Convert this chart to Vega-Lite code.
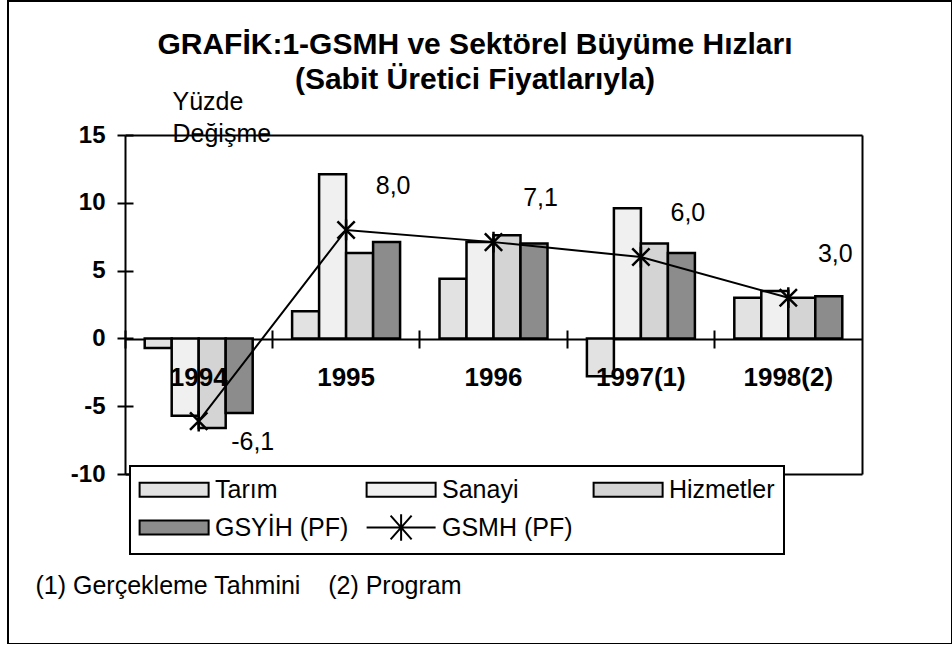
{
  "$schema": "https://vega.github.io/schema/vega-lite/v6.json",
  "width": 944,
  "height": 643,
  "autosize": "none",
  "padding": {"left": 8, "top": 1, "right": 0, "bottom": 0},
  "background": "white",
  "config": {
    "view": {"stroke": "black", "strokeWidth": 2},
    "font": "Liberation Sans",
    "locale": {"number": {"decimal": ",", "thousands": ".", "grouping": [3], "currency": ["", ""], "minus": "-"}},
    "axis": {"domainColor": "black", "tickColor": "black", "labelColor": "black", "titleColor": "black", "grid": false}
  },
  "title": {
    "text": ["GRAFİK:1-GSMH ve Sektörel Büyüme Hızları", "(Sabit Üretici Fiyatlarıyla)"],
    "fontSize": 30,
    "fontWeight": "bold",
    "font": "Liberation Sans",
    "color": "black",
    "anchor": "middle",
    "frame": "group",
    "baseline": "top",
    "lineHeight": 35,
    "offset": -94,
    "dx": -5
  },
  "datasets": {
    "bars": [
      {"year": "1994", "series": "Tarım", "value": -0.7},
      {"year": "1994", "series": "Sanayi", "value": -5.7},
      {"year": "1994", "series": "Hizmetler", "value": -6.6},
      {"year": "1994", "series": "GSYİH (PF)", "value": -5.5},
      {"year": "1995", "series": "Tarım", "value": 2.0},
      {"year": "1995", "series": "Sanayi", "value": 12.1},
      {"year": "1995", "series": "Hizmetler", "value": 6.3},
      {"year": "1995", "series": "GSYİH (PF)", "value": 7.1},
      {"year": "1996", "series": "Tarım", "value": 4.4},
      {"year": "1996", "series": "Sanayi", "value": 7.1},
      {"year": "1996", "series": "Hizmetler", "value": 7.6},
      {"year": "1996", "series": "GSYİH (PF)", "value": 7.0},
      {"year": "1997(1)", "series": "Tarım", "value": -2.8},
      {"year": "1997(1)", "series": "Sanayi", "value": 9.6},
      {"year": "1997(1)", "series": "Hizmetler", "value": 7.0},
      {"year": "1997(1)", "series": "GSYİH (PF)", "value": 6.3},
      {"year": "1998(2)", "series": "Tarım", "value": 3.0},
      {"year": "1998(2)", "series": "Sanayi", "value": 3.5},
      {"year": "1998(2)", "series": "Hizmetler", "value": 3.0},
      {"year": "1998(2)", "series": "GSYİH (PF)", "value": 3.1}
    ],
    "gsmh": [
      {"year": "1994", "GSMH": -6.1},
      {"year": "1995", "GSMH": 8.0},
      {"year": "1996", "GSMH": 7.1},
      {"year": "1997(1)", "GSMH": 6.0},
      {"year": "1998(2)", "GSMH": 3.0}
    ]
  },
  "layer": [
    {
      "data": {"name": "bars"},
      "mark": {"type": "bar", "stroke": "black", "strokeWidth": 2.5},
      "encoding": {
        "x": {
          "field": "year", "type": "nominal",
          "scale": {"domain": ["1994", "1995", "1996", "1997(1)", "1998(2)"], "range": [117, 854], "paddingInner": 0, "paddingOuter": 0},
          "axis": {
            "orient": "bottom", "offset": -305, "bandPosition": 0, "labels": false,
            "domain": true, "domainWidth": 2, "ticks": true, "tickSize": 9, "tickWidth": 2,
            "title": "(1) Gerçekleme Tahmini\u00a0\u00a0\u00a0 (2) Program",
            "titleX": 27, "titleY": 246, "titleAlign": "left", "titleAnchor": "start", "titleBaseline": "middle",
            "titleFontSize": 25, "titleFontWeight": "normal", "titleFont": "Liberation Sans"
          }
        },
        "xOffset": {
          "field": "series", "type": "nominal",
          "scale": {"domain": ["Tarım", "Sanayi", "Hizmetler", "GSYİH (PF)"], "paddingInner": 0, "paddingOuter": 0.73}
        },
        "y": {
          "field": "value", "type": "quantitative",
          "scale": {"domain": [-10, 15], "range": [473, 134], "nice": false, "zero": false},
          "axis": {
            "orient": "left", "offset": -117, "values": [-10, -5, 0, 5, 10, 15],
            "domain": true, "domainWidth": 2, "tickSize": 8, "tickWidth": 2,
            "labelFontSize": 24, "labelFontWeight": "bold", "labelFont": "Liberation Sans", "labelPadding": 12,
            "title": ["Yüzde", "Değişme"], "titleAngle": 0, "titleAlign": "left", "titleBaseline": "alphabetic",
            "titleX": 47, "titleY": 108, "titleFontSize": 25, "titleFontWeight": "normal", "titleFont": "Liberation Sans",
            "titleLineHeight": 32
          }
        },
        "fill": {
          "field": "series", "type": "nominal",
          "scale": {
            "domain": ["Tarım", "Sanayi", "Hizmetler", "GSYİH (PF)", "GSMH (PF)"],
            "range": ["#e2e2e2", "#f0f0f0", "#d4d4d4", "#8c8c8c", "transparent"]
          },
          "legend": {
            "orient": "none", "legendX": 122, "legendY": 465,
            "columns": 3, "direction": "horizontal", "title": null, "gridAlign": "all",
            "columnPadding": 13, "rowPadding": 5, "padding": 9,
            "fillColor": "white", "strokeColor": "black",
            "labelFontSize": 25, "labelFont": "Liberation Sans", "labelColor": "black", "labelOffset": 51, "labelLimit": 300,
            "symbolSize": 196, "symbolStrokeColor": "black", "symbolStrokeWidth": 2, "symbolOpacity": 1,
            "symbolType": "M-1.7,-1L8.16,-1L8.16,1L-1.7,1Z",
            "encode": {
              "symbols": {"update": {"shape": {"signal": "datum.value === 'GSMH (PF)' ? 'M-1.7,0L8.16,0M1.73,-1.7L4.73,1.7M1.73,1.7L4.73,-1.7M3.23,-1.9L3.23,1.9' : 'M-1.7,-1L8.16,-1L8.16,1L-1.7,1Z'"}}},
              "legend": {"update": {"strokeWidth": {"value": 2}}}
            }
          }
        }
      }
    },
    {
      "data": {"name": "gsmh"},
      "mark": {"type": "line", "color": "black", "strokeWidth": 2},
      "encoding": {
        "x": {
          "field": "year", "type": "nominal",
          "scale": {"domain": ["1994", "1995", "1996", "1997(1)", "1998(2)"], "range": [117, 854], "paddingInner": 0, "paddingOuter": 0},
          "axis": {"orient": "top", "offset": -338, "bandPosition": 0, "labels": false, "domain": false, "ticks": true, "tickSize": 9, "tickWidth": 2, "title": null}
        },
        "y": {
          "field": "GSMH", "type": "quantitative",
          "scale": {"domain": [-10, 15], "range": [473, 134], "nice": false, "zero": false},
          "axis": {"orient": "right", "offset": -827, "values": [-10, -5, 0, 5, 10, 15], "labels": false, "domain": false, "ticks": true, "tickSize": 8, "tickWidth": 2, "title": null}
        }
      }
    },
    {
      "data": {"name": "gsmh"},
      "mark": {"type": "point", "shape": "M-1,-1L1,1M-1,1L1,-1M0,-1.2L0,1.2", "size": 300, "stroke": "black", "strokeWidth": 2.5, "filled": false, "opacity": 1},
      "encoding": {
        "x": {
          "field": "year", "type": "nominal",
          "scale": {"domain": ["1994", "1995", "1996", "1997(1)", "1998(2)"], "range": [117, 854], "paddingInner": 0, "paddingOuter": 0},
          "axis": {"orient": "top", "offset": -134, "labels": false, "domain": true, "domainWidth": 2, "ticks": false, "title": null}
        },
        "y": {
          "field": "GSMH", "type": "quantitative",
          "scale": {"domain": [-10, 15], "range": [473, 134], "nice": false, "zero": false},
          "axis": {"orient": "right", "offset": -90, "labels": false, "domain": true, "domainWidth": 2, "ticks": false, "title": null}
        }
      }
    },
    {
      "data": {"name": "gsmh"},
      "transform": [{"filter": "datum.GSMH > 0"}],
      "mark": {"type": "text", "dx": 47, "dy": -44, "fontSize": 25, "font": "Liberation Sans", "color": "black"},
      "encoding": {
        "x": {
          "field": "year", "type": "nominal",
          "scale": {"domain": ["1994", "1995", "1996", "1997(1)", "1998(2)"], "range": [117, 854], "paddingInner": 0, "paddingOuter": 0},
          "axis": {"orient": "bottom", "offset": -170, "labels": false, "domain": true, "domainWidth": 2, "ticks": false, "title": null}
        },
        "y": {
          "field": "GSMH", "type": "quantitative",
          "scale": {"domain": [-10, 15], "range": [473, 134], "nice": false, "zero": false},
          "axis": null
        },
        "text": {"field": "GSMH", "type": "quantitative", "format": ".1f"}
      }
    },
    {
      "data": {"name": "gsmh"},
      "transform": [{"filter": "datum.GSMH < 0"}],
      "mark": {"type": "text", "dx": 54, "dy": 21, "fontSize": 25, "font": "Liberation Sans", "color": "black"},
      "encoding": {
        "x": {
          "field": "year", "type": "nominal",
          "scale": {"domain": ["1994", "1995", "1996", "1997(1)", "1998(2)"], "range": [117, 854], "paddingInner": 0, "paddingOuter": 0},
          "axis": null
        },
        "y": {
          "field": "GSMH", "type": "quantitative",
          "scale": {"domain": [-10, 15], "range": [473, 134], "nice": false, "zero": false},
          "axis": null
        },
        "text": {"field": "GSMH", "type": "quantitative", "format": ".1f"}
      }
    },
    {
      "data": {"name": "gsmh"},
      "mark": {"type": "text", "dy": 40, "fontSize": 26, "fontWeight": "bold", "font": "Liberation Sans", "color": "black"},
      "encoding": {
        "x": {
          "field": "year", "type": "nominal",
          "scale": {"domain": ["1994", "1995", "1996", "1997(1)", "1998(2)"], "range": [117, 854], "paddingInner": 0, "paddingOuter": 0},
          "axis": null
        },
        "y": {
          "datum": 0, "type": "quantitative",
          "scale": {"domain": [-10, 15], "range": [473, 134], "nice": false, "zero": false},
          "axis": null
        },
        "text": {"field": "year", "type": "nominal"}
      }
    }
  ],
  "resolve": {"axis": {"x": "independent", "y": "independent"}}
}
